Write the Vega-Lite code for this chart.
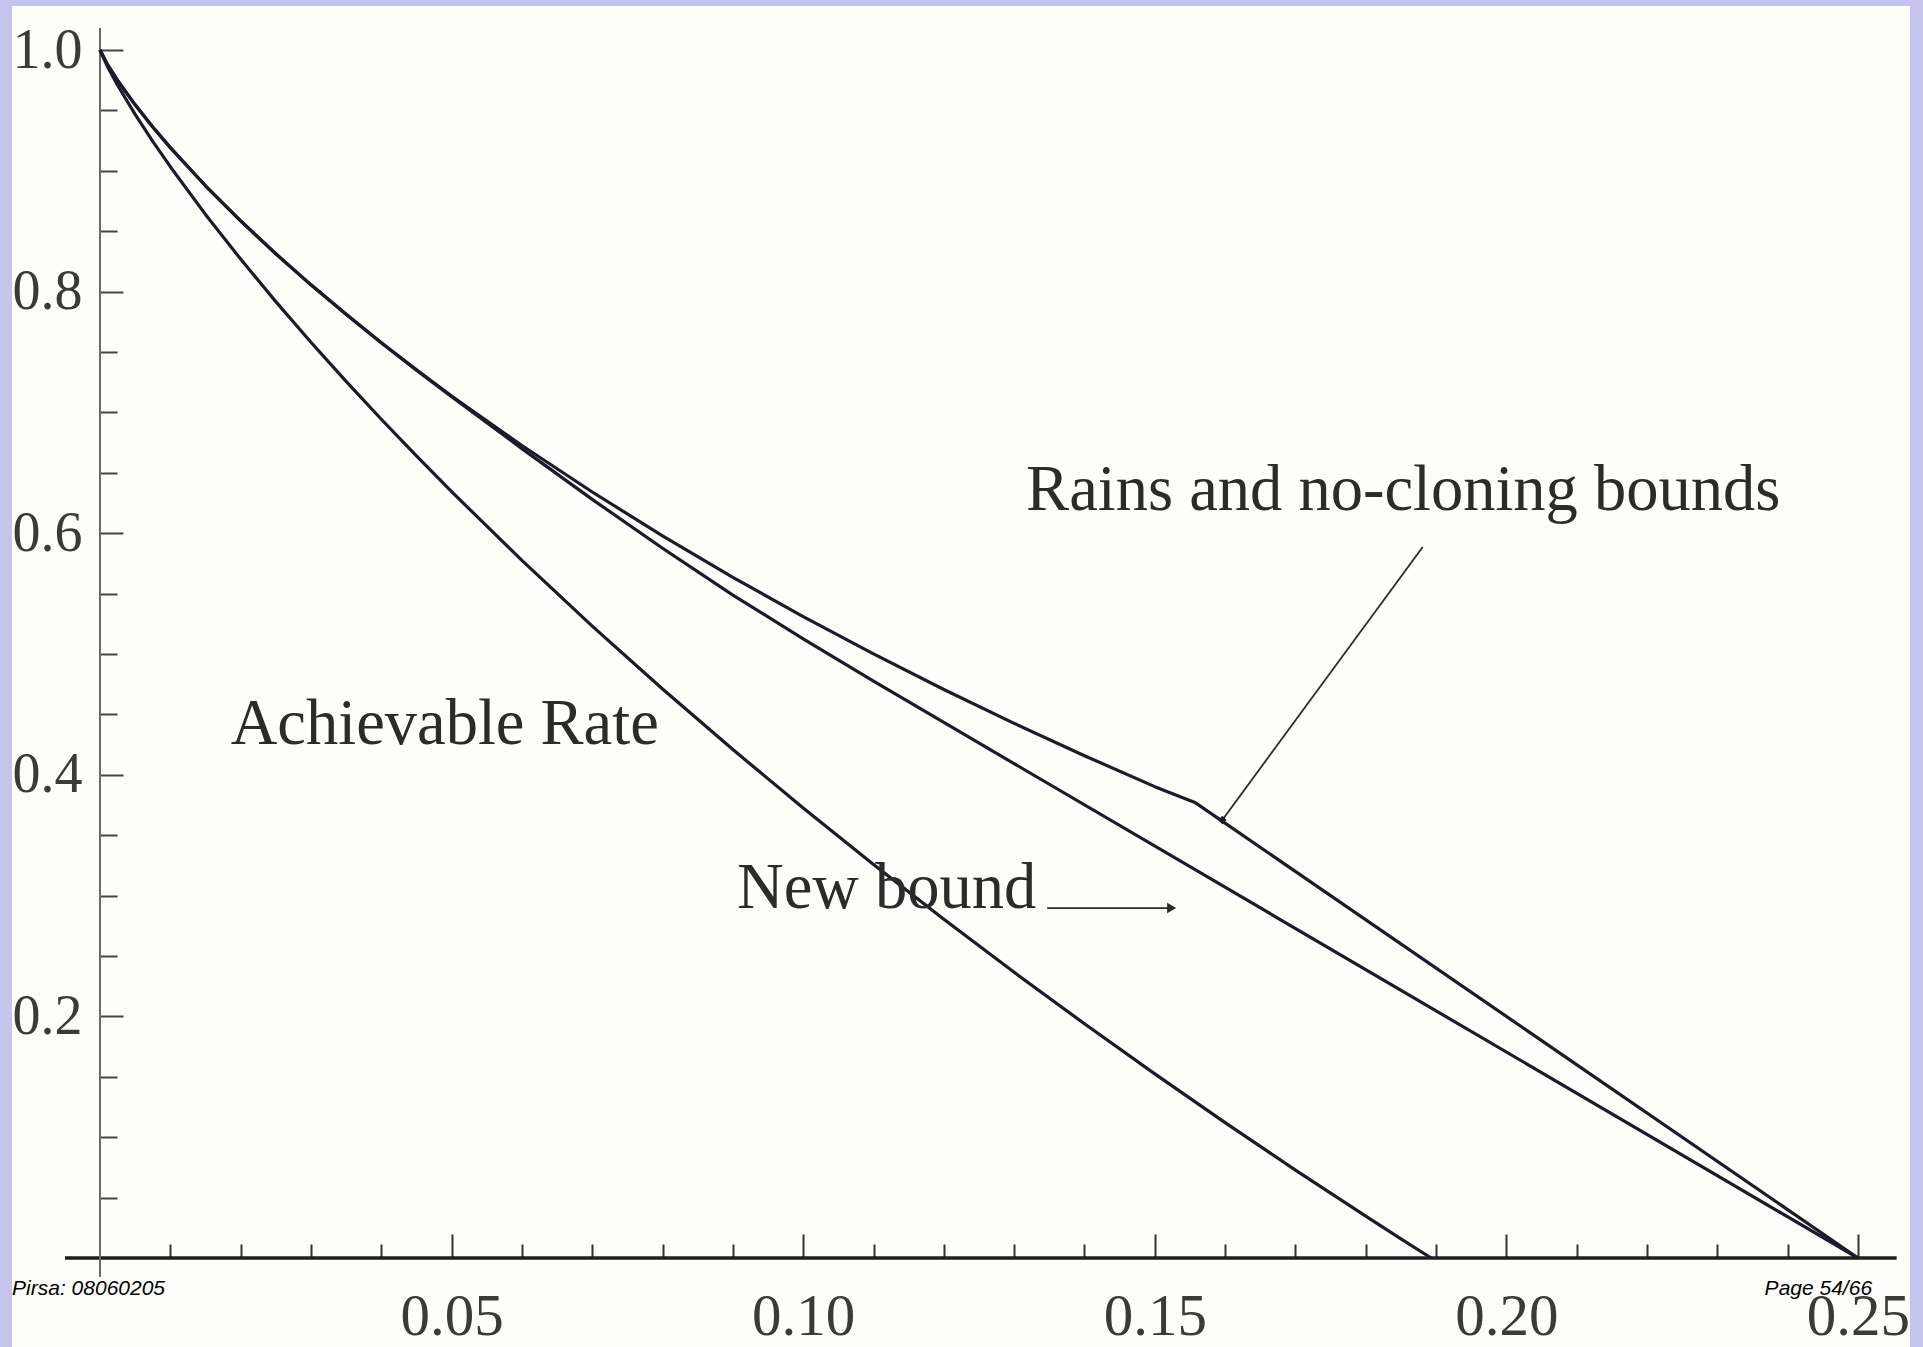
{
  "$schema": "https://vega.github.io/schema/vega-lite/v6.json",
  "width": 1898,
  "height": 1341,
  "autosize": {"type": "none"},
  "padding": {"left": 12, "top": 6, "right": 13, "bottom": 0},
  "background": "#c4c4ee",
  "config": {"view": {"fill": "#fdfdf9", "stroke": null}},
  "datasets": {
    "curves": [
      {"series": "rains", "p": 0, "rate": 1},
      {"series": "rains", "p": 0.001, "rate": 0.9886},
      {"series": "rains", "p": 0.0025, "rate": 0.9748},
      {"series": "rains", "p": 0.005, "rate": 0.9546},
      {"series": "rains", "p": 0.0075, "rate": 0.9363},
      {"series": "rains", "p": 0.01, "rate": 0.9192},
      {"series": "rains", "p": 0.015, "rate": 0.8876},
      {"series": "rains", "p": 0.02, "rate": 0.8586},
      {"series": "rains", "p": 0.025, "rate": 0.8313},
      {"series": "rains", "p": 0.03, "rate": 0.8056},
      {"series": "rains", "p": 0.035, "rate": 0.7812},
      {"series": "rains", "p": 0.04, "rate": 0.7577},
      {"series": "rains", "p": 0.045, "rate": 0.7353},
      {"series": "rains", "p": 0.05, "rate": 0.7136},
      {"series": "rains", "p": 0.06, "rate": 0.6726},
      {"series": "rains", "p": 0.07, "rate": 0.6341},
      {"series": "rains", "p": 0.08, "rate": 0.5978},
      {"series": "rains", "p": 0.09, "rate": 0.5635},
      {"series": "rains", "p": 0.10, "rate": 0.5310},
      {"series": "rains", "p": 0.11, "rate": 0.5001},
      {"series": "rains", "p": 0.12, "rate": 0.4706},
      {"series": "rains", "p": 0.13, "rate": 0.4426},
      {"series": "rains", "p": 0.14, "rate": 0.4158},
      {"series": "rains", "p": 0.15, "rate": 0.3902},
      {"series": "rains", "p": 0.1558, "rate": 0.3768},
      {"series": "rains", "p": 0.25, "rate": 0},
      {"series": "newbound", "p": 0, "rate": 1},
      {"series": "newbound", "p": 0.001, "rate": 0.9886},
      {"series": "newbound", "p": 0.0025, "rate": 0.9748},
      {"series": "newbound", "p": 0.005, "rate": 0.9546},
      {"series": "newbound", "p": 0.0075, "rate": 0.9363},
      {"series": "newbound", "p": 0.01, "rate": 0.9192},
      {"series": "newbound", "p": 0.015, "rate": 0.8876},
      {"series": "newbound", "p": 0.02, "rate": 0.8586},
      {"series": "newbound", "p": 0.025, "rate": 0.8313},
      {"series": "newbound", "p": 0.03, "rate": 0.8056},
      {"series": "newbound", "p": 0.035, "rate": 0.7812},
      {"series": "newbound", "p": 0.04, "rate": 0.7576},
      {"series": "newbound", "p": 0.045, "rate": 0.7350},
      {"series": "newbound", "p": 0.05, "rate": 0.7130},
      {"series": "newbound", "p": 0.06, "rate": 0.6700},
      {"series": "newbound", "p": 0.07, "rate": 0.6280},
      {"series": "newbound", "p": 0.08, "rate": 0.5875},
      {"series": "newbound", "p": 0.09, "rate": 0.5488},
      {"series": "newbound", "p": 0.10, "rate": 0.5125},
      {"series": "newbound", "p": 0.11, "rate": 0.4776},
      {"series": "newbound", "p": 0.12, "rate": 0.4433},
      {"series": "newbound", "p": 0.25, "rate": 0},
      {"series": "hashing", "p": 0, "rate": 1},
      {"series": "hashing", "p": 0.001, "rate": 0.9870},
      {"series": "hashing", "p": 0.0025, "rate": 0.9708},
      {"series": "hashing", "p": 0.005, "rate": 0.9467},
      {"series": "hashing", "p": 0.0075, "rate": 0.9243},
      {"series": "hashing", "p": 0.01, "rate": 0.9034},
      {"series": "hashing", "p": 0.015, "rate": 0.8639},
      {"series": "hashing", "p": 0.02, "rate": 0.8269},
      {"series": "hashing", "p": 0.025, "rate": 0.7917},
      {"series": "hashing", "p": 0.03, "rate": 0.7581},
      {"series": "hashing", "p": 0.035, "rate": 0.7257},
      {"series": "hashing", "p": 0.04, "rate": 0.6943},
      {"series": "hashing", "p": 0.045, "rate": 0.6640},
      {"series": "hashing", "p": 0.05, "rate": 0.6344},
      {"series": "hashing", "p": 0.06, "rate": 0.5775},
      {"series": "hashing", "p": 0.07, "rate": 0.5231},
      {"series": "hashing", "p": 0.08, "rate": 0.4710},
      {"series": "hashing", "p": 0.09, "rate": 0.4209},
      {"series": "hashing", "p": 0.10, "rate": 0.3725},
      {"series": "hashing", "p": 0.11, "rate": 0.3257},
      {"series": "hashing", "p": 0.12, "rate": 0.2804},
      {"series": "hashing", "p": 0.13, "rate": 0.2365},
      {"series": "hashing", "p": 0.14, "rate": 0.1939},
      {"series": "hashing", "p": 0.15, "rate": 0.1524},
      {"series": "hashing", "p": 0.16, "rate": 0.1121},
      {"series": "hashing", "p": 0.17, "rate": 0.0728},
      {"series": "hashing", "p": 0.18, "rate": 0.0346},
      {"series": "hashing", "p": 0.185, "rate": 0.0159},
      {"series": "hashing", "p": 0.1893, "rate": 0}
    ],
    "notes": [
      {"text": "Rains and no-cloning bounds", "p": 0.1317, "rate": 0.6192},
      {"text": "Achievable Rate", "p": 0.0186, "rate": 0.4255},
      {"text": "New bound", "p": 0.0906, "rate": 0.2897}
    ],
    "pointers": [
      {"p": 0.1881, "rate": 0.5886, "p2": 0.1596, "rate2": 0.3626},
      {"p": 0.1347, "rate": 0.2897, "p2": 0.1522, "rate2": 0.2897}
    ]
  },
  "layer": [
    {
      "data": {"values": [{"p": -0.00498, "rate": 0, "p2": 0.2555}]},
      "mark": {"type": "rule", "color": "#1e1e1e", "strokeWidth": 3.5},
      "encoding": {
        "x": {"field": "p", "type": "quantitative"},
        "x2": {"field": "p2"},
        "y": {"field": "rate", "type": "quantitative"}
      }
    },
    {
      "data": {"values": [{"p": 0, "rate": -0.0157, "rate2": 1.0182}]},
      "mark": {"type": "rule", "color": "#6a6a6a", "strokeWidth": 2},
      "encoding": {
        "x": {"field": "p", "type": "quantitative"},
        "y": {"field": "rate", "type": "quantitative"},
        "y2": {"field": "rate2"}
      }
    },
    {
      "data": {"name": "curves"},
      "mark": {"type": "line", "color": "#1c1c28", "strokeWidth": 3.2, "interpolate": "linear", "strokeJoin": "round"},
      "encoding": {
        "x": {
          "field": "p", "type": "quantitative",
          "scale": {"domain": [-0.012514, 0.257395], "nice": false, "zero": false},
          "axis": {
            "title": null, "domain": false, "grid": false, "offset": -89,
            "values": [0.01,0.02,0.03,0.04,0.05,0.06,0.07,0.08,0.09,0.10,0.11,0.12,0.13,0.14,0.15,0.16,0.17,0.18,0.19,0.20,0.21,0.22,0.23,0.24,0.25],
            "tickSize": {"condition": {"test": "abs(datum.value*20-round(datum.value*20))<0.001", "value": -24}, "value": -14},
            "tickColor": "#333333", "tickWidth": 2,
            "labelExpr": "abs(datum.value*20-round(datum.value*20))<0.001 ? format(datum.value,'.2f') : ''",
            "labelFont": "Liberation Serif", "labelFontSize": 59, "labelColor": "#3a3a3a",
            "labelPadding": 100, "labelBaseline": "alphabetic",
            "labelOverlap": false, "labelFlush": false, "labelBound": false
          }
        },
        "y": {
          "field": "rate", "type": "quantitative",
          "scale": {"domain": [-0.073675, 1.036424], "nice": false, "zero": false},
          "axis": {
            "title": null, "domain": false, "grid": false, "offset": -88,
            "values": [0.05,0.1,0.15,0.2,0.25,0.3,0.35,0.4,0.45,0.5,0.55,0.6,0.65,0.7,0.75,0.8,0.85,0.9,0.95,1.0],
            "tickSize": {"condition": {"test": "abs(datum.value*5-round(datum.value*5))<0.001", "value": -23}, "value": -17},
            "tickColor": "#444444", "tickWidth": 2,
            "labelExpr": "abs(datum.value*5-round(datum.value*5))<0.001 ? format(datum.value,'.1f') : ''",
            "labelFont": "Liberation Serif", "labelFontSize": 56, "labelColor": "#3a3a3a",
            "labelPadding": 41, "labelBaseline": "middle", "labelAlign": "right",
            "labelOverlap": false, "labelFlush": false, "labelBound": false
          }
        },
        "detail": {"field": "series"}
      }
    },
    {
      "data": {"name": "pointers"},
      "mark": {"type": "rule", "color": "#2a2a2a", "strokeWidth": 1.8},
      "encoding": {
        "x": {"field": "p", "type": "quantitative"},
        "y": {"field": "rate", "type": "quantitative"},
        "x2": {"field": "p2"},
        "y2": {"field": "rate2"}
      }
    },
    {
      "data": {"values": [{"p": 0.1524, "rate": 0.2897}]},
      "mark": {"type": "point", "shape": "triangle-right", "size": 110, "filled": true, "color": "#2a2a2a", "opacity": 1},
      "encoding": {
        "x": {"field": "p", "type": "quantitative"},
        "y": {"field": "rate", "type": "quantitative"}
      }
    },
    {
      "data": {"values": [{"p": 0.1596, "rate": 0.3626}]},
      "mark": {"type": "point", "shape": "diamond", "size": 70, "filled": true, "color": "#1c1c28", "opacity": 1},
      "encoding": {
        "x": {"field": "p", "type": "quantitative"},
        "y": {"field": "rate", "type": "quantitative"}
      }
    },
    {
      "data": {"name": "notes"},
      "mark": {"type": "text", "font": "Liberation Serif", "fontSize": 64.5, "color": "#2b2b2b", "align": "left", "baseline": "alphabetic"},
      "encoding": {
        "x": {"field": "p", "type": "quantitative"},
        "y": {"field": "rate", "type": "quantitative"},
        "text": {"field": "text"}
      }
    },
    {
      "data": {"values": [{"label": "Pirsa: 08060205", "p": -0.0125, "rate": -0.0306}]},
      "mark": {"type": "text", "font": "Liberation Sans", "fontStyle": "italic", "fontSize": 21, "color": "#000000", "align": "left", "baseline": "alphabetic"},
      "encoding": {
        "x": {"field": "p", "type": "quantitative"},
        "y": {"field": "rate", "type": "quantitative"},
        "text": {"field": "label"}
      }
    },
    {
      "data": {"values": [{"label": "Page 54/66", "p": 0.2520, "rate": -0.0306}]},
      "mark": {"type": "text", "font": "Liberation Sans", "fontStyle": "italic", "fontSize": 21, "color": "#000000", "align": "right", "baseline": "alphabetic"},
      "encoding": {
        "x": {"field": "p", "type": "quantitative"},
        "y": {"field": "rate", "type": "quantitative"},
        "text": {"field": "label"}
      }
    }
  ]
}
